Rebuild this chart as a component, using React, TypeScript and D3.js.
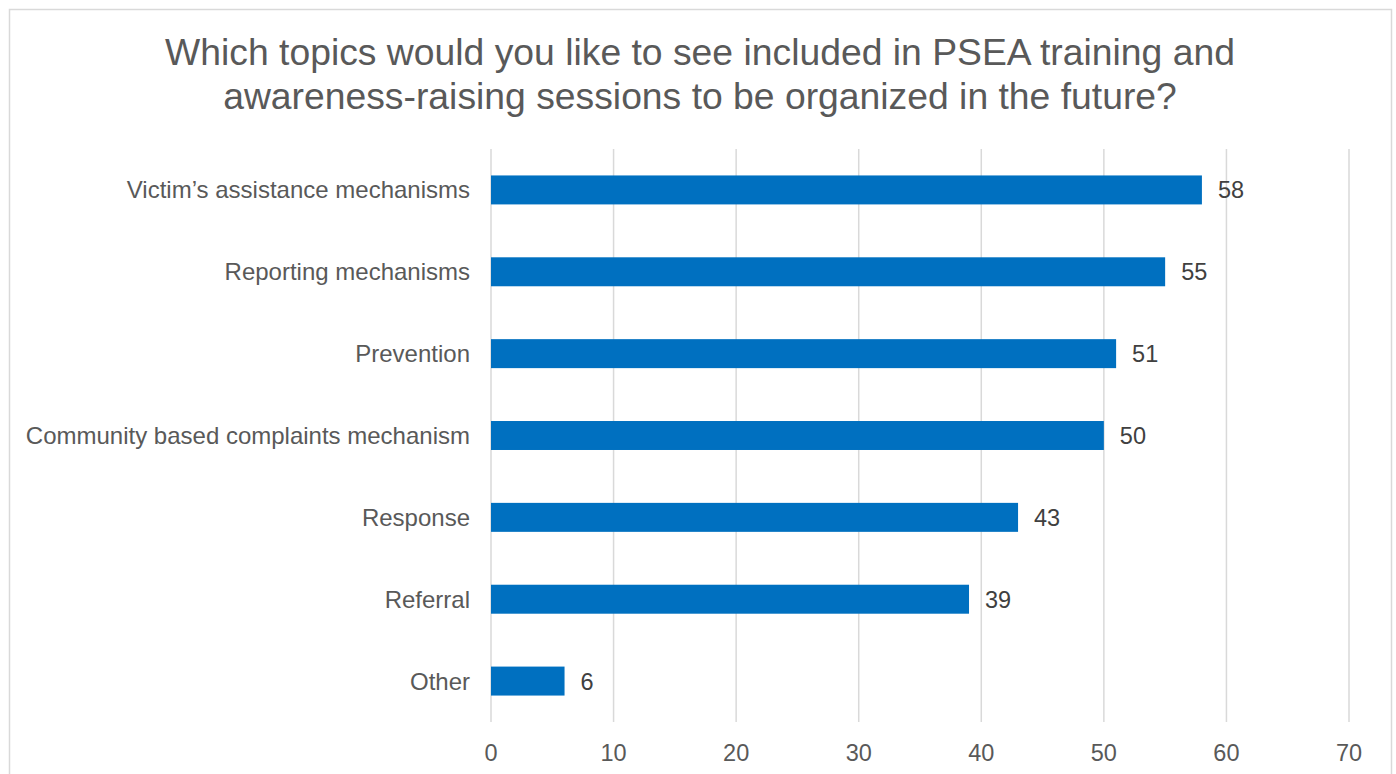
import React from "react";
import * as d3 from "d3";

const categories = [
  "Victim\u2019s assistance mechanisms",
  "Reporting mechanisms",
  "Prevention",
  "Community based complaints mechanism",
  "Response",
  "Referral",
  "Other",
];
const values = [58, 55, 51, 50, 43, 39, 6];
const xTicks = [0, 10, 20, 30, 40, 50, 60, 70];
const titleLines = [
  "Which topics would you like to see included in PSEA training and",
  "awareness-raising sessions to be organized in the future?",
];

const W = 1396;
const H = 774;
const FONT = "'Liberation Sans', Arial, sans-serif";

export default function App() {
  const x = d3.scaleLinear().domain([0, 70]).range([491, 1349]);
  const y = d3
    .scaleBand<string>()
    .domain(categories)
    .range([149, 722])
    .paddingInner(0.646)
    .paddingOuter(0.323);

  return (
    <svg
      width={W}
      height={H}
      style={{ position: "absolute", left: 0, top: 0, display: "block" }}
      fontFamily={FONT}
    >
      <rect x={0} y={0} width={W} height={H} fill="#fff" />
      <rect x={9.5} y={9.5} width={1382} height={820} fill="#fff" stroke="#d9d9d9" strokeWidth={1.5} />
      {titleLines.map((t, i) => (
        <text key={i} x={700} y={65 + i * 44} textAnchor="middle" fontSize={37.3} fill="#595959">
          {t}
        </text>
      ))}
      {xTicks.map((t) => (
        <g key={t}>
          <line x1={x(t)} x2={x(t)} y1={149} y2={722} stroke="#d9d9d9" strokeWidth={1.5} />
          <text x={x(t)} y={761} textAnchor="middle" fontSize={23.5} fill="#595959">
            {t}
          </text>
        </g>
      ))}
      {categories.map((c, i) => {
        const yy = y(c)!;
        const bw = y.bandwidth();
        return (
          <g key={c}>
            <rect x={x(0)} y={yy} width={x(values[i]) - x(0)} height={bw} fill="#0070c0" />
            <text x={470} y={yy + bw / 2 + 8.5} textAnchor="end" fontSize={24} fill="#595959">
              {c}
            </text>
            <text x={x(values[i]) + 16} y={yy + bw / 2 + 8.5} fontSize={23.5} fill="#404040">
              {values[i]}
            </text>
          </g>
        );
      })}
    </svg>
  );
}
